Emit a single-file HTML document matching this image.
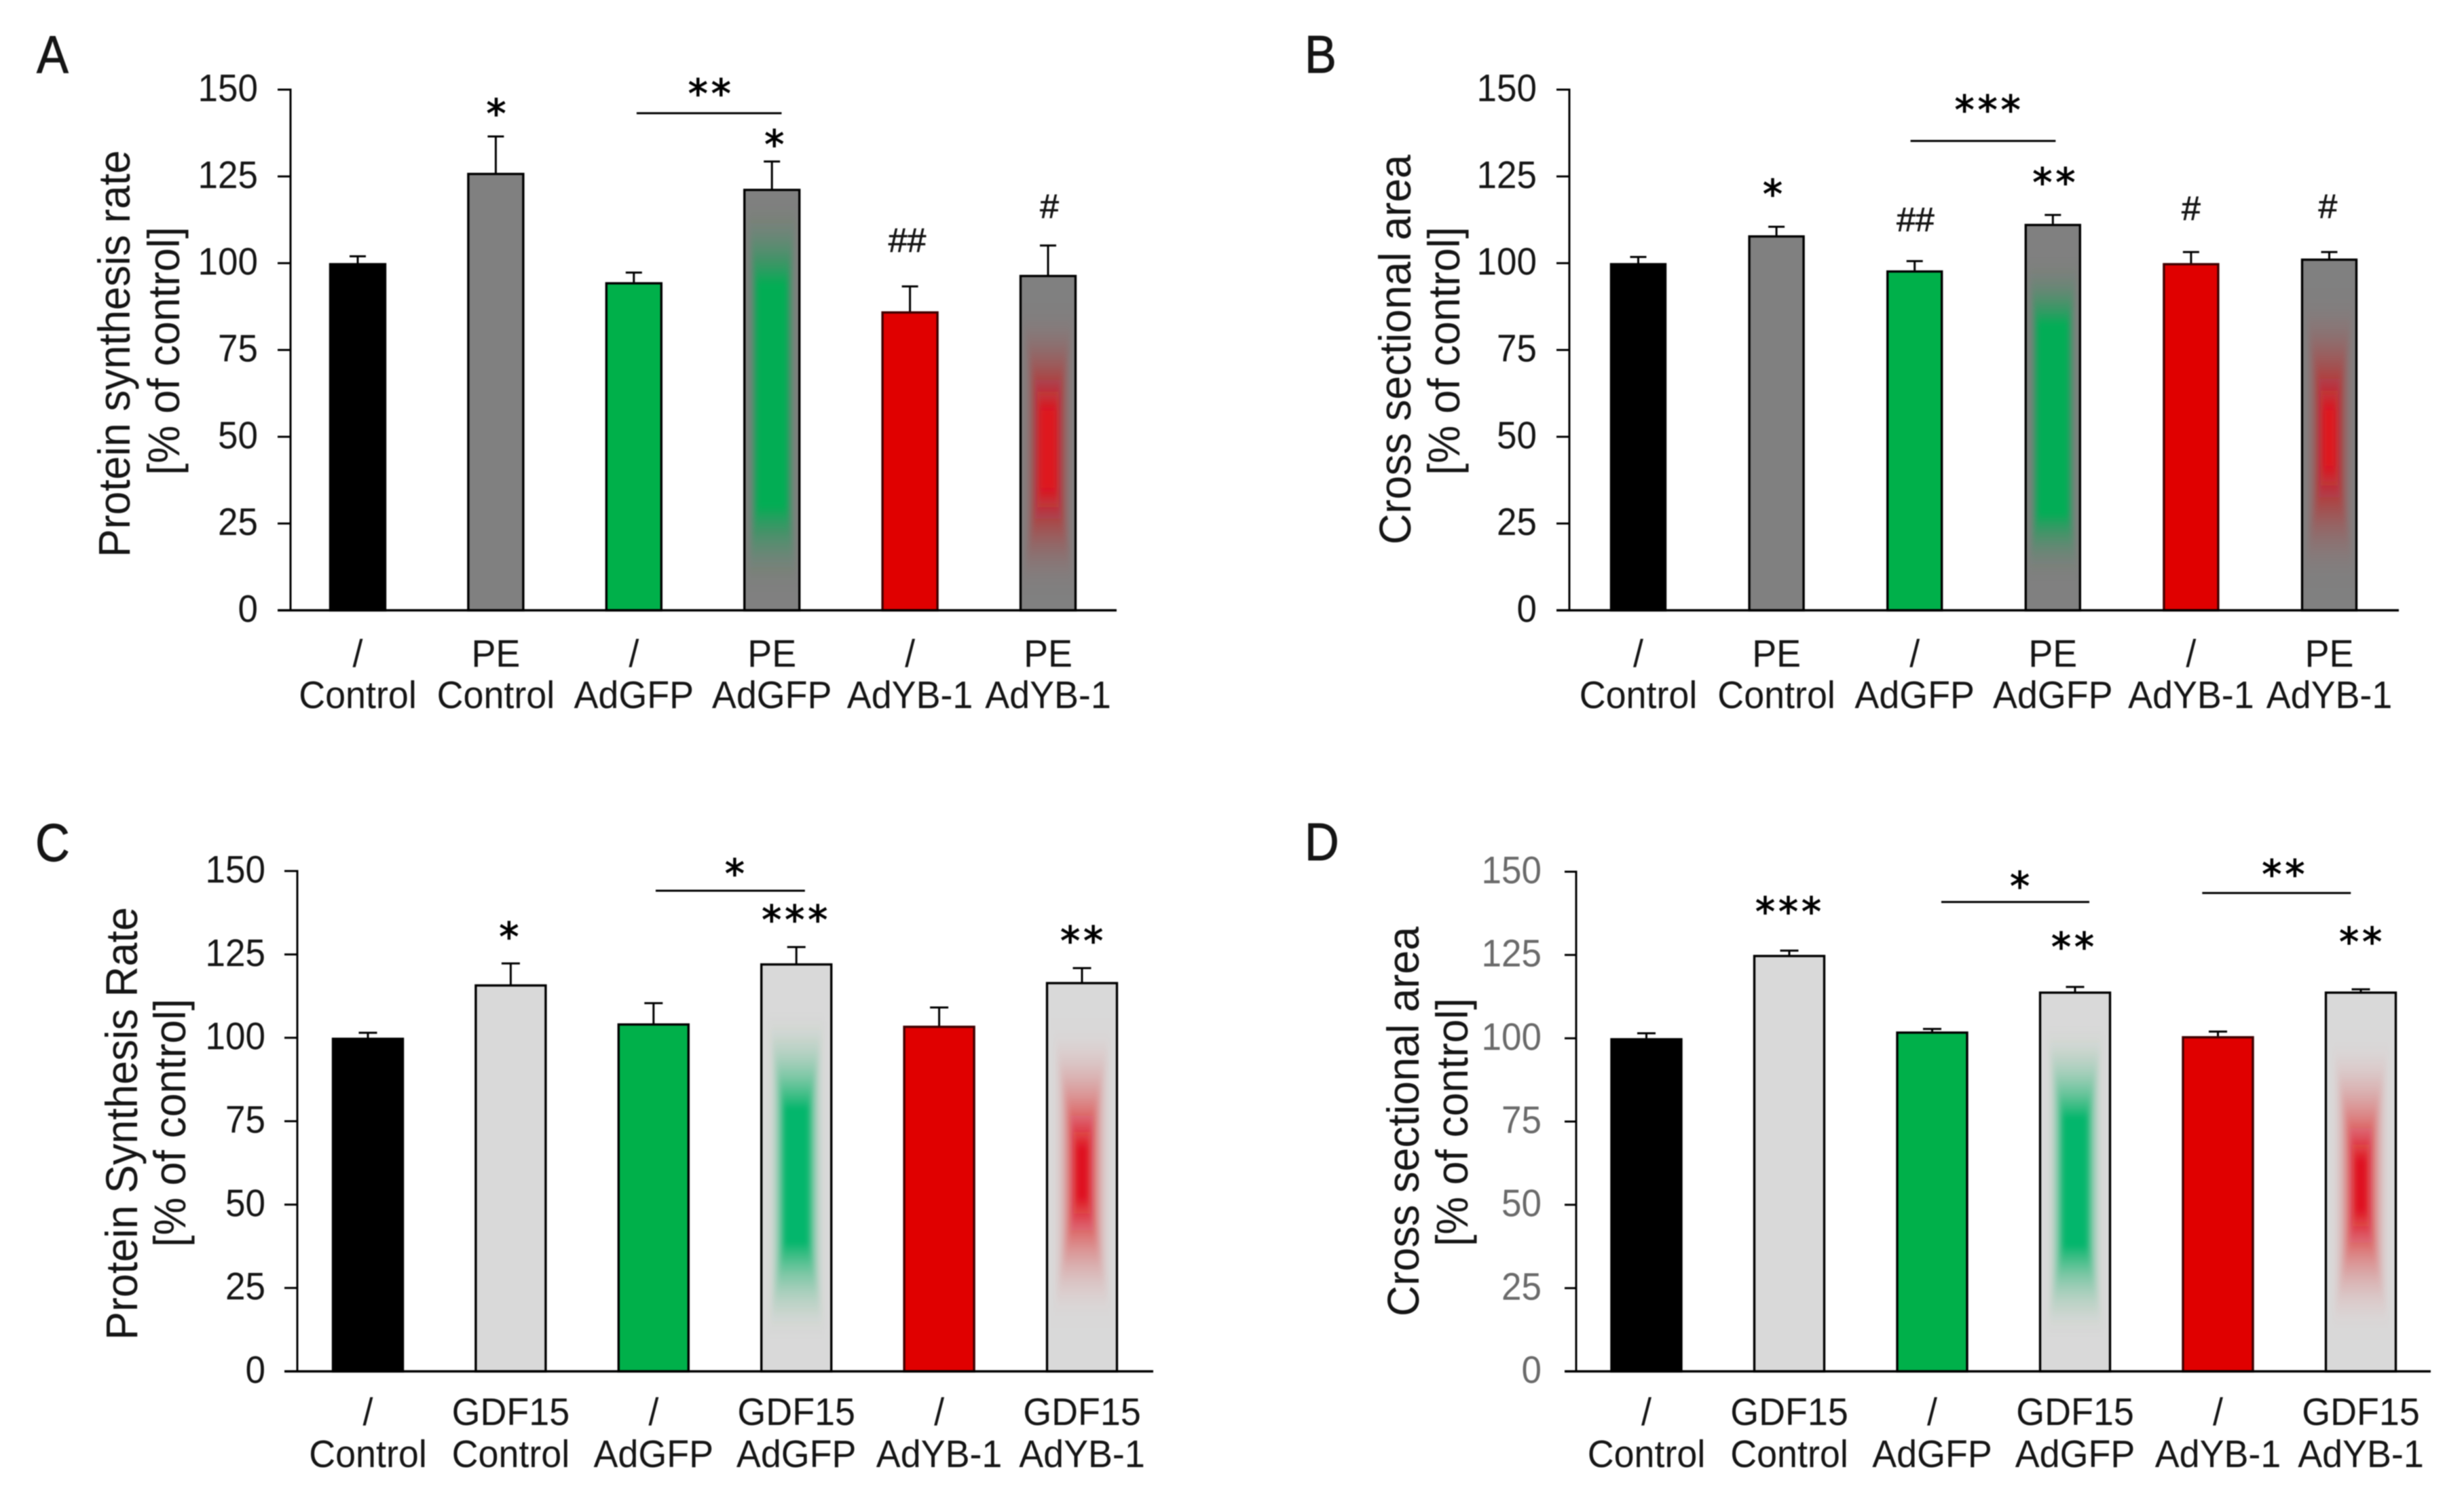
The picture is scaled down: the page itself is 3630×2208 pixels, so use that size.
<!DOCTYPE html>
<html lang="en">
<head>
<meta charset="utf-8">
<title>Protein synthesis and cross sectional area bar charts</title>
<style>
html,body{margin:0;padding:0;background:#fff;width:3630px;height:2208px;overflow:hidden}
svg{display:block;filter:blur(.7px)}
text{font-family:"Liberation Sans",sans-serif;fill:#151515}
.title{font-size:66px}
.letter{font-size:78px;stroke:#151515;stroke-width:1px}
</style>
</head>
<body>
<svg id="figure" xmlns="http://www.w3.org/2000/svg" width="3630" height="2208" viewBox="0 0 3630 2208">
<rect width="3630" height="2208" fill="#fff"/>
<text class="letter" transform="translate(54,107) scale(.9,1)">A</text>
<text class="letter" transform="translate(1922,107) scale(.9,1)">B</text>
<text class="letter" transform="translate(52,1268) scale(.9,1)">C</text>
<text class="letter" transform="translate(1922,1267) scale(.9,1)">D</text>
<text class="title" text-anchor="middle" transform="translate(191,521) rotate(-90) scale(.945,1)">Protein synthesis rate</text>
<text class="title" text-anchor="middle" transform="translate(264,517) rotate(-90) scale(.95,1)">[% of control]</text>
<text class="title" text-anchor="middle" transform="translate(2078,515) rotate(-90) scale(.955,1)">Cross sectional area</text>
<text class="title" text-anchor="middle" transform="translate(2150,517) rotate(-90) scale(.95,1)">[% of control]</text>
<text class="title" text-anchor="middle" transform="translate(202,1655) rotate(-90) scale(.95,1)">Protein Synthesis Rate</text>
<text class="title" text-anchor="middle" transform="translate(273,1654) rotate(-90) scale(.95,1)">[% of control]</text>
<text class="title" text-anchor="middle" transform="translate(2090,1652) rotate(-90) scale(.955,1)">Cross sectional area</text>
<text class="title" text-anchor="middle" transform="translate(2162,1653) rotate(-90) scale(.95,1)">[% of control]</text>
</svg>
<script>
const tickValues = [0, 25, 50, 75, 100, 125, 150];
const treatmentLabelsPE = ['/', 'PE', '/', 'PE', '/', 'PE'];
const treatmentLabelsGDF = ['/', 'GDF15', '/', 'GDF15', '/', 'GDF15'];
const vectorLabels = ['Control', 'Control', 'AdGFP', 'AdGFP', 'AdYB-1', 'AdYB-1'];

const valuesA = [100, 126, 94.5, 121.4, 86.1, 96.6];
const errorsA = [2, 10.5, 2.8, 7.9, 7.2, 8.5];
const valuesB = [100, 108, 97.9, 111.3, 100, 101.3];
const errorsB = [1.8, 2.5, 2.7, 2.6, 3.2, 1.9];
const valuesC = [100, 116, 104.3, 122.3, 103.6, 116.7];
const errorsC = [1.5, 6.3, 6.1, 4.9, 5.5, 4.2];
const valuesD = [100, 125, 102, 114, 100.6, 114];
const errorsD = [1.5, 1.3, 0.8, 1.4, 1.4, 0.7];

const marksTextA = ['*', '**', '*', '##', '#'];
const marksGroupA = [1.015, 2.56, 3.03, 3.98, 5.01];
const marksLevelA = [144.4, 150.2, 135.5, 106.8, 116.6];
const bracketFromA = [2.02];
const bracketToA = [3.07];
const bracketLevelA = [143.2];

const marksTextB = ['***', '*', '##', '**', '#', '#'];
const marksGroupB = [2.54, 0.985, 2.006, 3.02, 4.0, 4.99];
const marksLevelB = [145.5, 121.3, 112.7, 124.6, 116, 116.6];
const bracketFromB = [1.97];
const bracketToB = [3.02];
const bracketLevelB = [135.2];

const marksTextC = ['*', '*', '***', '**'];
const marksGroupC = [1.0, 2.58, 3.0, 5.01];
const marksLevelC = [131.7, 150.6, 136.8, 130.5];
const bracketFromC = [2.015];
const bracketToC = [3.06];
const bracketLevelC = [144.1];

const marksTextD = ['***', '*', '**', '**', '**'];
const marksGroupD = [1.005, 2.625, 4.47, 2.995, 5.01];
const marksLevelD = [139.4, 147, 150.6, 128.8, 130.3];
const bracketFromD = [2.064, 3.89];
const bracketToD = [3.1, 4.93];
const bracketLevelD = [140.9, 143.6];

const NS = 'http://www.w3.org/2000/svg';
const figure = document.getElementById('figure');
const defs = document.createElementNS(NS, 'defs');
figure.appendChild(defs);
const blurFilter = document.createElementNS(NS, 'filter');
blurFilter.setAttribute('id', 'glow-blur');
blurFilter.setAttribute('x', '-30%');
blurFilter.setAttribute('y', '-30%');
blurFilter.setAttribute('width', '160%');
blurFilter.setAttribute('height', '160%');
const blurNode = document.createElementNS(NS, 'feGaussianBlur');
blurNode.setAttribute('stdDeviation', '4');
blurFilter.appendChild(blurNode);
defs.appendChild(blurFilter);

function line(parent, x1, y1, x2, y2, width) {
  const l = document.createElementNS(NS, 'line');
  l.setAttribute('x1', x1);
  l.setAttribute('y1', y1);
  l.setAttribute('x2', x2);
  l.setAttribute('y2', y2);
  l.setAttribute('stroke', '#000');
  l.setAttribute('stroke-width', width);
  parent.appendChild(l);
  return l;
}

function label(parent, x, y, str, size, sx) {
  const t = document.createElementNS(NS, 'text');
  t.setAttribute('transform', 'translate(' + x + ',' + y + ') scale(' + sx + ',1)');
  t.setAttribute('font-size', size);
  t.setAttribute('text-anchor', 'middle');
  t.textContent = str;
  parent.appendChild(t);
  return t;
}

function drawGlow(group, id, cx, top, bottom, barW, glow) {
  const clip = document.createElementNS(NS, 'clipPath');
  clip.setAttribute('id', id);
  const clipRect = document.createElementNS(NS, 'rect');
  clipRect.setAttribute('x', cx - barW / 2 + 3);
  clipRect.setAttribute('y', top + 3);
  clipRect.setAttribute('width', barW - 6);
  clipRect.setAttribute('height', bottom - top - 3);
  clip.appendChild(clipRect);
  defs.appendChild(clip);
  const holder = document.createElementNS(NS, 'g');
  holder.setAttribute('clip-path', 'url(#' + id + ')');
  const blurred = document.createElementNS(NS, 'g');
  blurred.setAttribute('filter', 'url(#glow-blur)');
  holder.appendChild(blurred);
  group.appendChild(holder);
  const h = bottom - top;
  const cy = top + glow.center * h;
  const halfH = glow.reach * h;
  const halfW = barW / 2 * glow.spread;
  const steps = 40;
  let prev = 0;
  for (let k = 1; k <= steps; k++) {
    const t = 1 - (k - 1) / steps;
    const ramp = t <= glow.core ? 1 : Math.pow((1 - t) / (1 - glow.core), 2.1);
    const want = Math.min(0.985, ramp * 0.985);
    const alpha = 1 - (1 - want) / (1 - prev);
    prev = want;
    if (alpha <= 0) continue;
    const r = document.createElementNS(NS, 'rect');
    r.setAttribute('x', cx - halfW * t);
    r.setAttribute('y', cy - halfH * t);
    r.setAttribute('width', 2 * halfW * t);
    r.setAttribute('height', 2 * halfH * t);
    r.setAttribute('fill', glow.color);
    r.setAttribute('fill-opacity', alpha.toFixed(4));
    blurred.appendChild(r);
  }
}

function drawPanel(p) {
  const panel = document.createElementNS(NS, 'g');
  
  
  figure.appendChild(panel);
  const yScale = v => p.yBase - (v / 150) * (p.yBase - p.yTop);
  const xScale = g => p.firstX + g * p.step;

  const bars = document.createElementNS(NS, 'g');
  
  
  panel.appendChild(bars);

  p.values.forEach((v, i) => {
    const cx = xScale(i);
    const top = yScale(v);
    const g = document.createElementNS(NS, 'g');
    
    
    bars.appendChild(g);
    const fills = ['#000', p.gray, '#00b04a', p.gray, '#e00000', p.gray];
    const r = document.createElementNS(NS, 'rect');
    r.setAttribute('x', cx - p.barW / 2 + 1.5);
    r.setAttribute('y', top + 1.5);
    r.setAttribute('width', p.barW - 3);
    r.setAttribute('height', Math.max(0, p.yBase - top - 1.5));
    r.setAttribute('fill', fills[i]);
    g.appendChild(r);
    if (i === 3) drawGlow(g, 'glow-' + p.key + '-green', cx, top, p.yBase, p.barW, p.greenGlow);
    if (i === 5) drawGlow(g, 'glow-' + p.key + '-red', cx, top, p.yBase, p.barW, p.redGlow);
    const o = document.createElementNS(NS, 'rect');
    o.setAttribute('x', cx - p.barW / 2 + 1.5);
    o.setAttribute('y', top + 1.5);
    o.setAttribute('width', p.barW - 3);
    o.setAttribute('height', Math.max(0, p.yBase - top - 1.5));
    o.setAttribute('fill', 'none');
    o.setAttribute('stroke', i === 4 ? '#400000' : '#000');
    o.setAttribute('stroke-width', 3.4);
    g.appendChild(o);

    const errTop = yScale(v + p.errors[i]);
    const eb = document.createElementNS(NS, 'g');
    
    
    panel.appendChild(eb);
    line(eb, cx, top, cx, errTop, 3);
    line(eb, cx - p.cap / 2, errTop, cx + p.cap / 2, errTop, 3);

    const t1 = label(panel, cx, p.labelY1, p.treatments[i], 57, 0.945);
    
    
    const t2 = label(panel, cx, p.labelY2, vectorLabels[i], 57, 0.945);
    
    
  });

  const yAxis = document.createElementNS(NS, 'g');
  
  
  panel.appendChild(yAxis);
  line(yAxis, p.axisX, p.yTop - 1.5, p.axisX, p.yBase + 1.5, 3);
  tickValues.forEach(v => {
    const y = yScale(v);
    line(yAxis, p.tickX, y, p.axisX, y, 3);
    const t = document.createElementNS(NS, 'text');
    t.setAttribute('transform', 'translate(' + p.tickLabelX + ',' + (y + 17) + ') scale(.93,1)');
    t.setAttribute('font-size', 57);
    t.setAttribute('text-anchor', 'end');
    t.style.fill = p.tickColor;
    t.textContent = String(v);
    
    
    yAxis.appendChild(t);
  });
  const xAxis = line(panel, p.tickX, p.yBase, p.axisEnd, p.yBase, 3.5);
  
  

  p.bracketFrom.forEach((g, i) => {
    const y = yScale(p.bracketLevel[i]);
    const b = line(panel, xScale(g), y, xScale(p.bracketTo[i]), y, 3);
    
    
  });

  p.marks.forEach((m, i) => {
    const x = xScale(p.marksGroup[i]);
    const y = yScale(p.marksLevel[i]);
    let t;
    if (m.charAt(0) === '#') {
      t = label(panel, x, y + 18, m, 50, 1);
      t.style.stroke = '#151515';
      t.style.strokeWidth = '0.8px';
    } else {
      t = label(panel, x, y + 27, m, 58, 1);
      t.style.fill = '#000';
      t.style.stroke = '#000';
      t.style.strokeWidth = '1.2px';
      t.style.fontFamily = '"DejaVu Sans",sans-serif';
      t.setAttribute('letter-spacing', '5');
    }
    
    
  });
}

drawPanel({key: 'a', values: valuesA, errors: errorsA, treatments: treatmentLabelsPE,
  marks: marksTextA, marksGroup: marksGroupA, marksLevel: marksLevelA,
  bracketFrom: bracketFromA, bracketTo: bracketToA, bracketLevel: bracketLevelA,
  firstX: 527, step: 203.4, barW: 84, cap: 24, yTop: 132, yBase: 899,
  axisX: 428, tickX: 409, axisEnd: 1645, tickLabelX: 380, tickColor: '#151515',
  labelY1: 982, labelY2: 1043, gray: '#808080',
  greenGlow: {color: '#00ae55', center: 0.49, reach: 0.48, core: 0.56, spread: 0.92},
  redGlow: {color: '#e0141e', center: 0.52, reach: 0.46, core: 0.26, spread: 1}});

drawPanel({key: 'b', values: valuesB, errors: errorsB, treatments: treatmentLabelsPE,
  marks: marksTextB, marksGroup: marksGroupB, marksLevel: marksLevelB,
  bracketFrom: bracketFromB, bracketTo: bracketToB, bracketLevel: bracketLevelB,
  firstX: 2413.5, step: 203.6, barW: 83, cap: 24, yTop: 132, yBase: 899,
  axisX: 2312, tickX: 2293, axisEnd: 3534, tickLabelX: 2264, tickColor: '#151515',
  labelY1: 982, labelY2: 1043, gray: '#808080',
  greenGlow: {color: '#00ae55', center: 0.505, reach: 0.43, core: 0.58, spread: 0.92},
  redGlow: {color: '#e0141e', center: 0.51, reach: 0.45, core: 0.18, spread: 1}});

drawPanel({key: 'c', values: valuesC, errors: errorsC, treatments: treatmentLabelsGDF,
  marks: marksTextC, marksGroup: marksGroupC, marksLevel: marksLevelC,
  bracketFrom: bracketFromC, bracketTo: bracketToC, bracketLevel: bracketLevelC,
  firstX: 542, step: 210.4, barW: 106, cap: 27, yTop: 1283, yBase: 2020,
  axisX: 438, tickX: 419, axisEnd: 1699, tickLabelX: 391, tickColor: '#151515',
  labelY1: 2099, labelY2: 2161, gray: '#d9d9d9',
  greenGlow: {color: '#00b56a', center: 0.52, reach: 0.42, core: 0.4, spread: 0.82},
  redGlow: {color: '#e0101c', center: 0.49, reach: 0.42, core: 0.16, spread: 0.9}});

drawPanel({key: 'd', values: valuesD, errors: errorsD, treatments: treatmentLabelsGDF,
  marks: marksTextD, marksGroup: marksGroupD, marksLevel: marksLevelD,
  bracketFrom: bracketFromD, bracketTo: bracketToD, bracketLevel: bracketLevelD,
  firstX: 2425.5, step: 210.5, barW: 106, cap: 27, yTop: 1284, yBase: 2020,
  axisX: 2322, tickX: 2305, axisEnd: 3581, tickLabelX: 2271, tickColor: '#6a6a6a',
  labelY1: 2099, labelY2: 2161, gray: '#d9d9d9',
  greenGlow: {color: '#00b56a', center: 0.5, reach: 0.43, core: 0.4, spread: 0.82},
  redGlow: {color: '#e0101c', center: 0.51, reach: 0.43, core: 0.16, spread: 0.9}});
</script>
</body>
</html>
